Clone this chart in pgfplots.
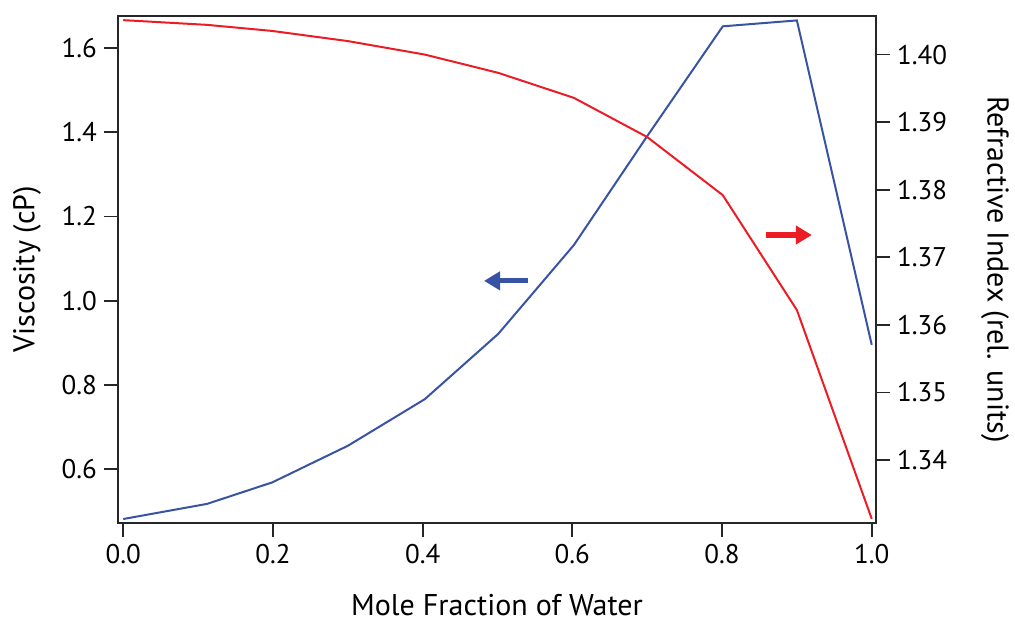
\documentclass[border=0pt]{standalone}
\usepackage{pgfplots}
\pgfplotsset{compat=1.18}
\usetikzlibrary{arrows.meta}
\usepackage{fontspec}
\setmainfont{PT Sans}

\definecolor{vblue}{RGB}{57,83,164}
\definecolor{rred}{RGB}{237,28,36}

\pgfplotstableread{
x     visc   ri
0.000 0.481  1.4051
0.112 0.517  1.4044
0.199 0.568  1.4035
0.300 0.655  1.4020
0.403 0.766  1.4000
0.501 0.921  1.3973
0.602 1.132  1.3936
0.700 1.391  1.3878
0.801 1.652  1.3792
0.900 1.666  1.3622
1.000 0.895  1.3313
}\datatable

\pgfplotsset{
  common/.style={
    scale only axis, width=379pt, height=253.5pt,
    xmin=-0.007, xmax=1.0057,
    axis line style={line width=0.9pt, black!85},
    tick align=outside, major tick length=7pt,
    tick style={line width=0.9pt, black!85},
    tick label style={font=\fontsize{13.5}{16}\selectfont},
    label style={font=\fontsize{15}{18}\selectfont},
    /pgf/number format/assume math mode=true,
    /pgf/number format/fixed,
    /pgf/number format/fixed zerofill,
  },
}

\begin{document}
\begin{tikzpicture}
\path[use as bounding box] (-59pt,-50pt) rectangle (448.5pt,261.4pt);
\begin{axis}[common,
  ymin=0.472, ymax=1.677,
  xtick pos=bottom, ytick pos=left,
  xtick={0,0.2,...,1.0}, xticklabel style={/pgf/number format/precision=1},
  ytick={0.6,0.8,...,1.61}, yticklabel style={/pgf/number format/precision=1},
  xlabel={Mole Fraction of Water},
  ylabel={Viscosity (cP)},
  xlabel style={at={(axis description cs:0.5,-0.162)}, anchor=center},
  ylabel style={at={(axis description cs:-0.12,0.5)}, anchor=center, rotate=0},
]
\addplot[vblue, line width=1pt] table[x=x, y=visc] {\datatable};
\draw[vblue, line width=2.6pt, -{Triangle[length=8pt, width=9pt]}] (axis cs:0.541,1.047) -- (axis cs:0.482,1.047);
\draw[rred, line width=2.6pt, -{Triangle[length=8pt, width=9pt]}] (axis cs:0.859,1.156) -- (axis cs:0.920,1.156);
\end{axis}
% refractive index axis: values offset by 1.3 and scaled by 100 internally
\begin{axis}[common,
  ymin=3.072, ymax=10.574,
  hide x axis,
  ytick pos=right, yticklabel pos=right,
  y filter/.expression={(y-1.3)*100},
  ytick={4,5,6,7,8,9,10},
  yticklabels={1.34,1.35,1.36,1.37,1.38,1.39,1.40},
  ylabel={Refractive Index (rel. units)},
  ylabel style={at={(axis description cs:1.157,0.5)}, anchor=center, rotate=180},
]
\addplot[rred, line width=1pt] table[x=x, y=ri] {\datatable};
\end{axis}
\end{tikzpicture}
\end{document}
